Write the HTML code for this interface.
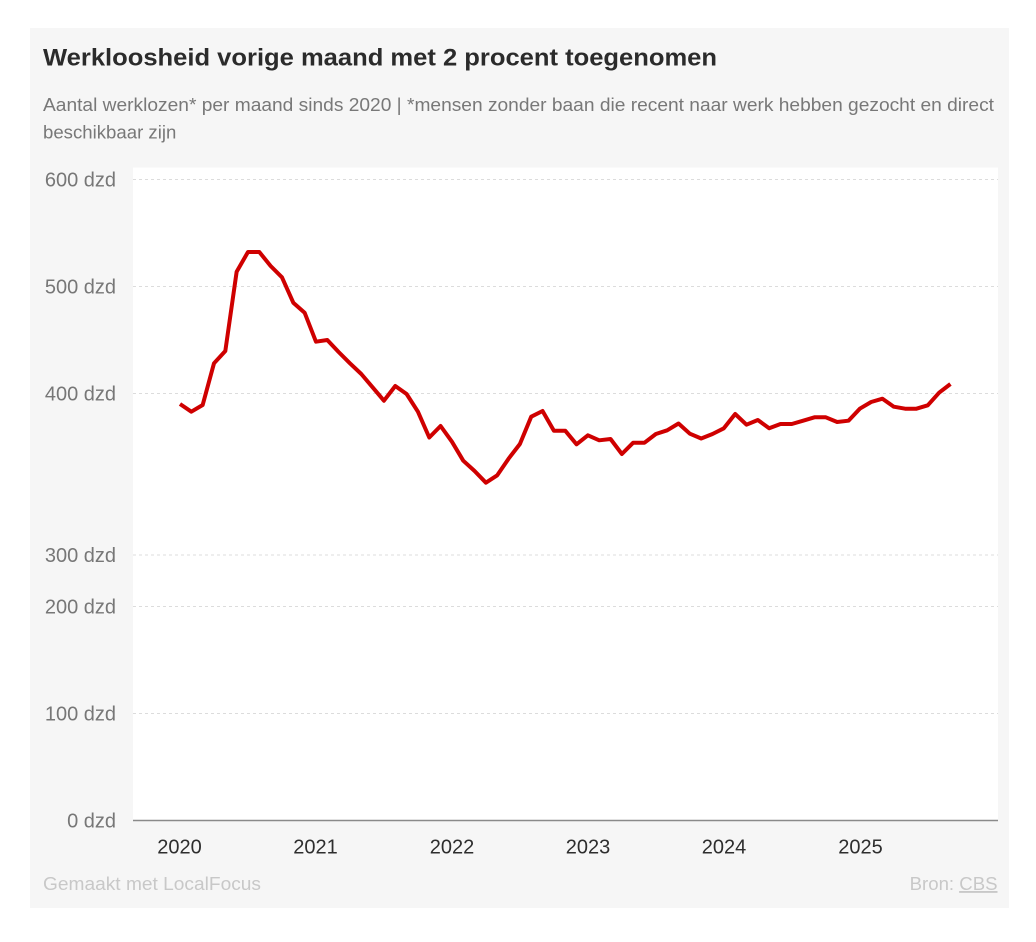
<!DOCTYPE html>
<html><head><meta charset="utf-8"><style>
html,body{margin:0;padding:0;background:#fff;}
svg{display:block;}
text{font-family:"Liberation Sans",Arial,sans-serif;}
</style></head><body>
<svg width="1036" height="942" viewBox="0 0 1036 942" xmlns="http://www.w3.org/2000/svg">
<rect x="0" y="0" width="1036" height="942" fill="#fff"/>
<rect x="30" y="28" width="979" height="880" fill="#f6f6f6"/>
<text x="43" y="65.5" font-size="24.5" font-weight="bold" fill="#2b2b2b" textLength="674" lengthAdjust="spacingAndGlyphs">Werkloosheid vorige maand met 2 procent toegenomen</text>
<text x="43" y="111" font-size="18.6" fill="#787878" textLength="951" lengthAdjust="spacingAndGlyphs">Aantal werklozen* per maand sinds 2020 | *mensen zonder baan die recent naar werk hebben gezocht en direct</text>
<text x="43" y="138.3" font-size="18.6" fill="#787878">beschikbaar zijn</text>
<rect x="133" y="167.5" width="865" height="653" fill="#fff"/>
<g stroke="#dcdcdc" stroke-width="1" stroke-dasharray="3,3">
<line x1="133" y1="179.5" x2="998" y2="179.5"/>
<line x1="133" y1="286.5" x2="998" y2="286.5"/>
<line x1="133" y1="393.5" x2="998" y2="393.5"/>
<line x1="133" y1="555" x2="998" y2="555"/>
<line x1="133" y1="606.5" x2="998" y2="606.5"/>
<line x1="133" y1="713.5" x2="998" y2="713.5"/>
</g>
<line x1="133" y1="820.5" x2="998" y2="820.5" stroke="#8a8a8a" stroke-width="1.5"/>
<g font-size="20" fill="#777" text-anchor="end">
<text x="116" y="186.5">600 dzd</text>
<text x="116" y="293.5">500 dzd</text>
<text x="116" y="400.5">400 dzd</text>
<text x="116" y="562">300 dzd</text>
<text x="116" y="613.5">200 dzd</text>
<text x="116" y="720.5">100 dzd</text>
<text x="116" y="827.5">0 dzd</text>
</g>
<g font-size="20" fill="#2e2e2e" text-anchor="middle">
<text x="179.5" y="853.3">2020</text>
<text x="315.5" y="853.3">2021</text>
<text x="452" y="853.3">2022</text>
<text x="588" y="853.3">2023</text>
<text x="724" y="853.3">2024</text>
<text x="860.5" y="853.3">2025</text>
</g>
<polyline fill="none" stroke="#cf0000" stroke-width="4" stroke-linejoin="round" stroke-linecap="butt" points="180,404 191.33,411.7 202.66,405 213.99,363.3 225.32,351 236.65,271.7 247.98,252 259.31,252 270.64,266 281.97,277.3 293.3,302.7 304.63,312.7 315.96,341.7 327.29,340 338.62,352 349.95,363.3 361.28,374 372.61,387.3 383.94,400.7 395.27,386 406.6,394 417.93,411.7 429.26,437.5 440.59,426 451.92,441.7 463.25,460.7 474.58,471 485.91,482.7 497.24,475.3 508.57,458.7 519.9,444 531.23,416.7 542.56,411 553.89,430.7 565.22,430.7 576.55,444.3 587.88,435.3 599.21,440.3 610.54,439 621.87,454 633.2,442.7 644.53,442.7 655.86,434 667.19,430.3 678.52,423.5 689.85,433.7 701.18,438.5 712.51,434 723.84,428.3 735.17,414 746.5,424.7 757.83,420 769.16,428.3 780.49,424 791.82,424 803.15,420.7 814.48,417.3 825.81,417.3 837.14,422 848.47,420.7 859.8,408.7 871.13,402 882.46,398.7 893.79,406.7 905.12,408.7 916.45,408.7 927.78,405.3 939.11,392.7 950.44,384"/>
<text x="43" y="890" font-size="18.6" fill="#c8c8c8" textLength="218" lengthAdjust="spacingAndGlyphs">Gemaakt met LocalFocus</text>
<text x="997.5" y="890" font-size="18.6" fill="#c8c8c8" text-anchor="end">Bron: <tspan text-decoration="underline">CBS</tspan></text>
<line x1="959" y1="892" x2="997.5" y2="892" stroke="#c8c8c8" stroke-width="1"/>
</svg>
</body></html>
